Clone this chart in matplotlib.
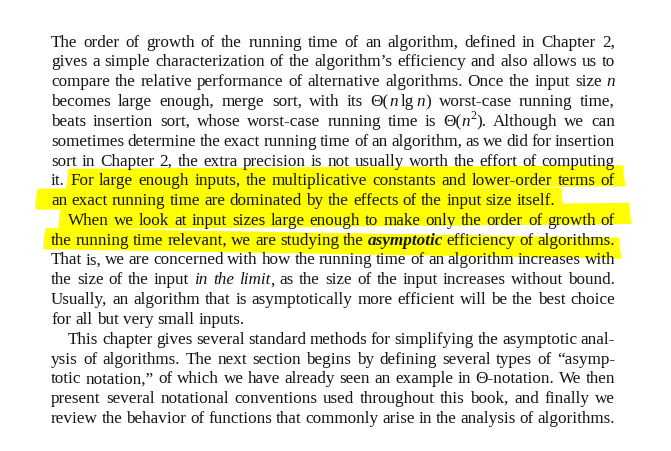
"""
教材页面截图重现：两端对齐的正文 + 荧光笔标记
"""

import re
import matplotlib
matplotlib.use("Agg")
import matplotlib.pyplot as plt
from matplotlib.font_manager import FontProperties
from matplotlib.patches import Polygon

# 正文（按原图分行）：*斜体*，**粗斜体**，^{上标}，~ 为细空格
lines = [
    "The order of growth of the running time of an algorithm, defined in Chapter 2,",
    "gives a simple characterization of the algorithm’s efficiency and also allows us to",
    "compare the relative performance of alternative algorithms. Once the input size *n*",
    "becomes large enough, merge sort, with its Θ(*n*~lg~*n*) worst-case running time,",
    "beats insertion sort, whose worst-case running time is Θ(*n*^{2}). Although we can",
    "sometimes determine the exact running time of an algorithm, as we did for insertion",
    "sort in Chapter 2, the extra precision is not usually worth the effort of computing",
    "it. For large enough inputs, the multiplicative constants and lower-order terms of",
    "an exact running time are dominated by the effects of the input size itself.",
    "When we look at input sizes large enough to make only the order of growth of",
    "the running time relevant, we are studying the **asymptotic** efficiency of algorithms.",
    "That is, we are concerned with how the running time of an algorithm increases with",
    "the size of the input *in* *the* *limit*, as the size of the input increases without bound.",
    "Usually, an algorithm that is asymptotically more efficient will be the best choice",
    "for all but very small inputs.",
    "This chapter gives several standard methods for simplifying the asymptotic anal-",
    "ysis of algorithms. The next section begins by defining several types of “asymp-",
    "totic notation,” of which we have already seen an example in Θ-notation. We then",
    "present several notational conventions used throughout this book, and finally we",
    "review the behavior of functions that commonly arise in the analysis of algorithms.",
]
# 'j' 两端对齐，'l' 段落末行（自然间距）
line_mode = ['j'] * 8 + ['l'] + ['j'] * 5 + ['l'] + ['j'] * 5
# 段首缩进的行
indented = [9, 15]

# 荧光笔标记: (行号, 左端x, 右端x, 右端上下偏移)
highlights = [
    (7, 69, 622, -3.5),
    (8, 38, 560, -1.0),
    (9, 61, 628, -5.5),
    (10, 46, 618, 9.5),
]

# 页面参数（像素）
W, H, DPI = 671, 451, 100
LEFT, RIGHT = 51, 615
BASE0, LEAD = 46.7, 19.8
INDENT = 17
LAST_W = 502          # 第 9 行自然宽度，用来确定字号
FONT = 'Liberation Serif'
INK = '#151515'
YELLOW = '#ffff00'

fig = plt.figure(figsize=(W / DPI, H / DPI), dpi=DPI)
fig.patch.set_facecolor('white')
renderer = fig.canvas.get_renderer()

seg_re = re.compile(r"\*\*(.+?)\*\*|\*(.+?)\*|\^\{(.+?)\}|(~)|([^*^~]+)")


def props(style, fs):
    if style == 'i':
        return FontProperties(family=FONT, style='italic', size=fs)
    if style == 'bi':
        return FontProperties(family=FONT, style='italic', weight='bold', size=fs)
    if style == 's':
        return FontProperties(family=FONT, size=fs * 0.7)
    return FontProperties(family=FONT, size=fs)


def parse_word(word):
    segs = []
    for m in seg_re.finditer(word):
        bi, it, sup, thin, rm = m.groups()
        if bi:
            segs.append((bi, 'bi'))
        elif it:
            segs.append((it, 'i'))
        elif sup:
            segs.append((sup, 's'))
        elif thin:
            segs.append(('', 'thin'))
        else:
            segs.append((rm, 'r'))
    return segs


def text_w(s, fp):
    w, _, _ = renderer.get_text_width_height_descent(s, fp, ismath=False)
    return w


def word_width(segs, fs):
    total = 0.0
    for s, st in segs:
        if st == 'thin':
            total += fs * DPI / 72 * 0.17
        else:
            total += text_w(s, props(st, fs))
    return total


def space_w(fs):
    fp = props('r', fs)
    return text_w('n n', fp) - text_w('nn', fp)


def natural_width(line, fs):
    words = [parse_word(w) for w in line.split(' ')]
    return sum(word_width(w, fs) for w in words) + space_w(fs) * (len(words) - 1)


# 按第 9 行的宽度确定字号
fs = 12 * LAST_W / natural_width(lines[8], 12)
px = fs * DPI / 72


def to_fig(x, y):
    return x / W, 1 - y / H


# 荧光笔（画在文字下面）
for row, x0, x1, dr in highlights:
    base = BASE0 + LEAD * row
    top, bot = base - 15.5, base + 3.5
    pts = [to_fig(x0, top), to_fig(x1, top + dr), to_fig(x1 + 2, bot + dr),
           to_fig(x0 - 2, bot)]
    fig.patches.append(Polygon(pts, closed=True, transform=fig.transFigure,
                               facecolor=YELLOW, edgecolor=YELLOW, lw=1.5,
                               joinstyle='round', zorder=1))

# 逐词排版
for i, line in enumerate(lines):
    base = BASE0 + LEAD * i
    x_start = LEFT + (INDENT if i in indented else 0)
    words = [parse_word(w) for w in line.split(' ')]
    widths = [word_width(w, fs) for w in words]
    if line_mode[i] == 'j' and len(words) > 1:
        gap = (RIGHT - x_start - sum(widths)) / (len(words) - 1)
    else:
        gap = space_w(fs)

    x = x_start
    for segs, ww in zip(words, widths):
        cx = x
        for s, st in segs:
            if st == 'thin':
                cx += px * 0.17
                continue
            fp = props(st, fs)
            y = base - (px * 0.38 if st == 's' else 0)
            fig.text(*to_fig(cx, y), s, fontproperties=fp, color=INK,
                     ha='left', va='baseline', zorder=3)
            cx += text_w(s, fp)
        x += ww + gap

fig.savefig('out.png', dpi=DPI, facecolor='white')
